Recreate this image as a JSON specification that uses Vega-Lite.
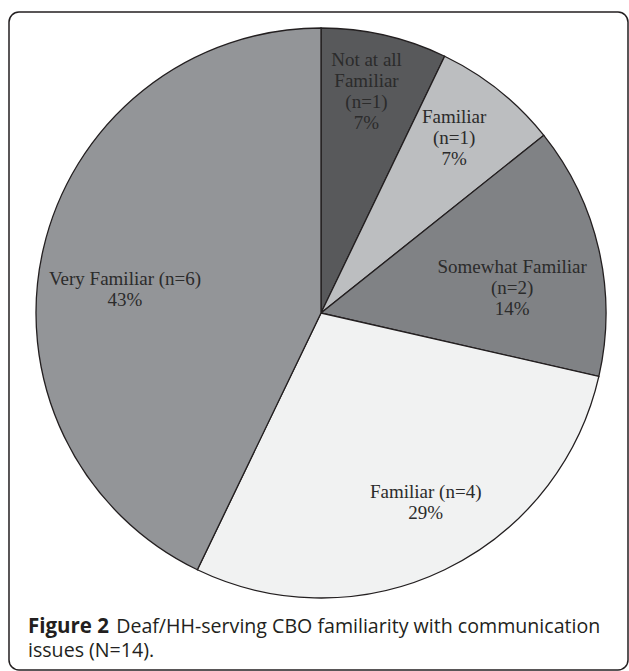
{
  "$schema": "https://vega.github.io/schema/vega-lite/v6.json",
  "width": 619,
  "height": 658,
  "autosize": {"type": "none"},
  "padding": {"left": 9, "top": 12, "right": 1, "bottom": 1},
  "background": "white",
  "config": {"view": {"stroke": "#231f20", "strokeWidth": 1.5, "cornerRadius": 10}},
  "title": {
    "text": "Figure 2",
    "subtitle": ["\u200b\u2003\u2003\u2003\u2003\u2002Deaf/HH-serving CBO familiarity with communication", "issues (N=14)."],
    "orient": "bottom",
    "anchor": "start",
    "frame": "group",
    "offset": -53,
    "dx": 19,
    "font": "Open Sans",
    "fontSize": 20.5,
    "fontWeight": "bold",
    "color": "#231f20",
    "subtitleFont": "Open Sans",
    "subtitleFontSize": 19.6,
    "subtitleFontWeight": "normal",
    "subtitleColor": "#231f20",
    "subtitlePadding": -20,
    "subtitleLineHeight": 24
  },
  "data": {
    "values": [
      {"key": "a", "idx": 1, "n": 1, "label": "Not at all\nFamiliar\n(n=1)\n7%"},
      {"key": "b", "idx": 2, "n": 1, "label": "Familiar\n(n=1)\n7%"},
      {"key": "c", "idx": 3, "n": 2, "label": "Somewhat Familiar\n(n=2)\n14%"},
      {"key": "d", "idx": 4, "n": 4, "label": "Familiar (n=4)\n29%"},
      {"key": "e", "idx": 5, "n": 6, "label": "Very Familiar (n=6)\n43%"}
    ]
  },
  "layer": [
    {
      "mark": {"type": "arc", "outerRadius": 285, "stroke": "#231f20", "strokeWidth": 1.3},
      "encoding": {
        "x": {"value": 312},
        "y": {"value": 301},
        "theta": {"field": "n", "type": "quantitative", "stack": true},
        "order": {"field": "idx", "type": "quantitative"},
        "color": {
          "field": "key", "type": "nominal",
          "scale": {"domain": ["a", "b", "c", "d", "e"], "range": ["#58595b", "#bcbec0", "#808285", "#f1f2f2", "#939598"]},
          "legend": null
        }
      }
    },
    {
      "mark": {"type": "text", "font": "Liberation Serif", "fontSize": 19, "lineHeight": 21, "lineBreak": "\n", "align": "center", "baseline": "middle", "color": "#2b2b2b", "radius": 227, "dx": -5, "dy": -31.5},
      "encoding": {
        "x": {"value": 312}, "y": {"value": 301},
        "theta": {"field": "n", "type": "quantitative", "stack": true},
        "order": {"field": "idx", "type": "quantitative"},
        "detail": {"field": "key", "type": "nominal"},
        "text": {"condition": {"test": "datum.key === 'a'", "field": "label"}, "value": ""}
      }
    },
    {
      "mark": {"type": "text", "font": "Liberation Serif", "fontSize": 19, "lineHeight": 21, "lineBreak": "\n", "align": "center", "baseline": "middle", "color": "#2b2b2b", "radius": 220, "dx": -4, "dy": -24},
      "encoding": {
        "x": {"value": 312}, "y": {"value": 301},
        "theta": {"field": "n", "type": "quantitative", "stack": true},
        "order": {"field": "idx", "type": "quantitative"},
        "detail": {"field": "key", "type": "nominal"},
        "text": {"condition": {"test": "datum.key === 'b'", "field": "label"}, "value": ""}
      }
    },
    {
      "mark": {"type": "text", "font": "Liberation Serif", "fontSize": 19, "lineHeight": 21, "lineBreak": "\n", "align": "center", "baseline": "middle", "color": "#2b2b2b", "radius": 195, "dx": 1, "dy": -3},
      "encoding": {
        "x": {"value": 312}, "y": {"value": 301},
        "theta": {"field": "n", "type": "quantitative", "stack": true},
        "order": {"field": "idx", "type": "quantitative"},
        "detail": {"field": "key", "type": "nominal"},
        "text": {"condition": {"test": "datum.key === 'c'", "field": "label"}, "value": ""}
      }
    },
    {
      "mark": {"type": "text", "font": "Liberation Serif", "fontSize": 19, "lineHeight": 21, "lineBreak": "\n", "align": "center", "baseline": "middle", "color": "#2b2b2b", "radius": 216, "dx": 11, "dy": -15.5},
      "encoding": {
        "x": {"value": 312}, "y": {"value": 301},
        "theta": {"field": "n", "type": "quantitative", "stack": true},
        "order": {"field": "idx", "type": "quantitative"},
        "detail": {"field": "key", "type": "nominal"},
        "text": {"condition": {"test": "datum.key === 'd'", "field": "label"}, "value": ""}
      }
    },
    {
      "mark": {"type": "text", "font": "Liberation Serif", "fontSize": 19, "lineHeight": 21, "lineBreak": "\n", "align": "center", "baseline": "middle", "color": "#2b2b2b", "radius": 200, "dx": -1, "dy": 10.5},
      "encoding": {
        "x": {"value": 312}, "y": {"value": 301},
        "theta": {"field": "n", "type": "quantitative", "stack": true},
        "order": {"field": "idx", "type": "quantitative"},
        "detail": {"field": "key", "type": "nominal"},
        "text": {"condition": {"test": "datum.key === 'e'", "field": "label"}, "value": ""}
      }
    }
  ]
}
